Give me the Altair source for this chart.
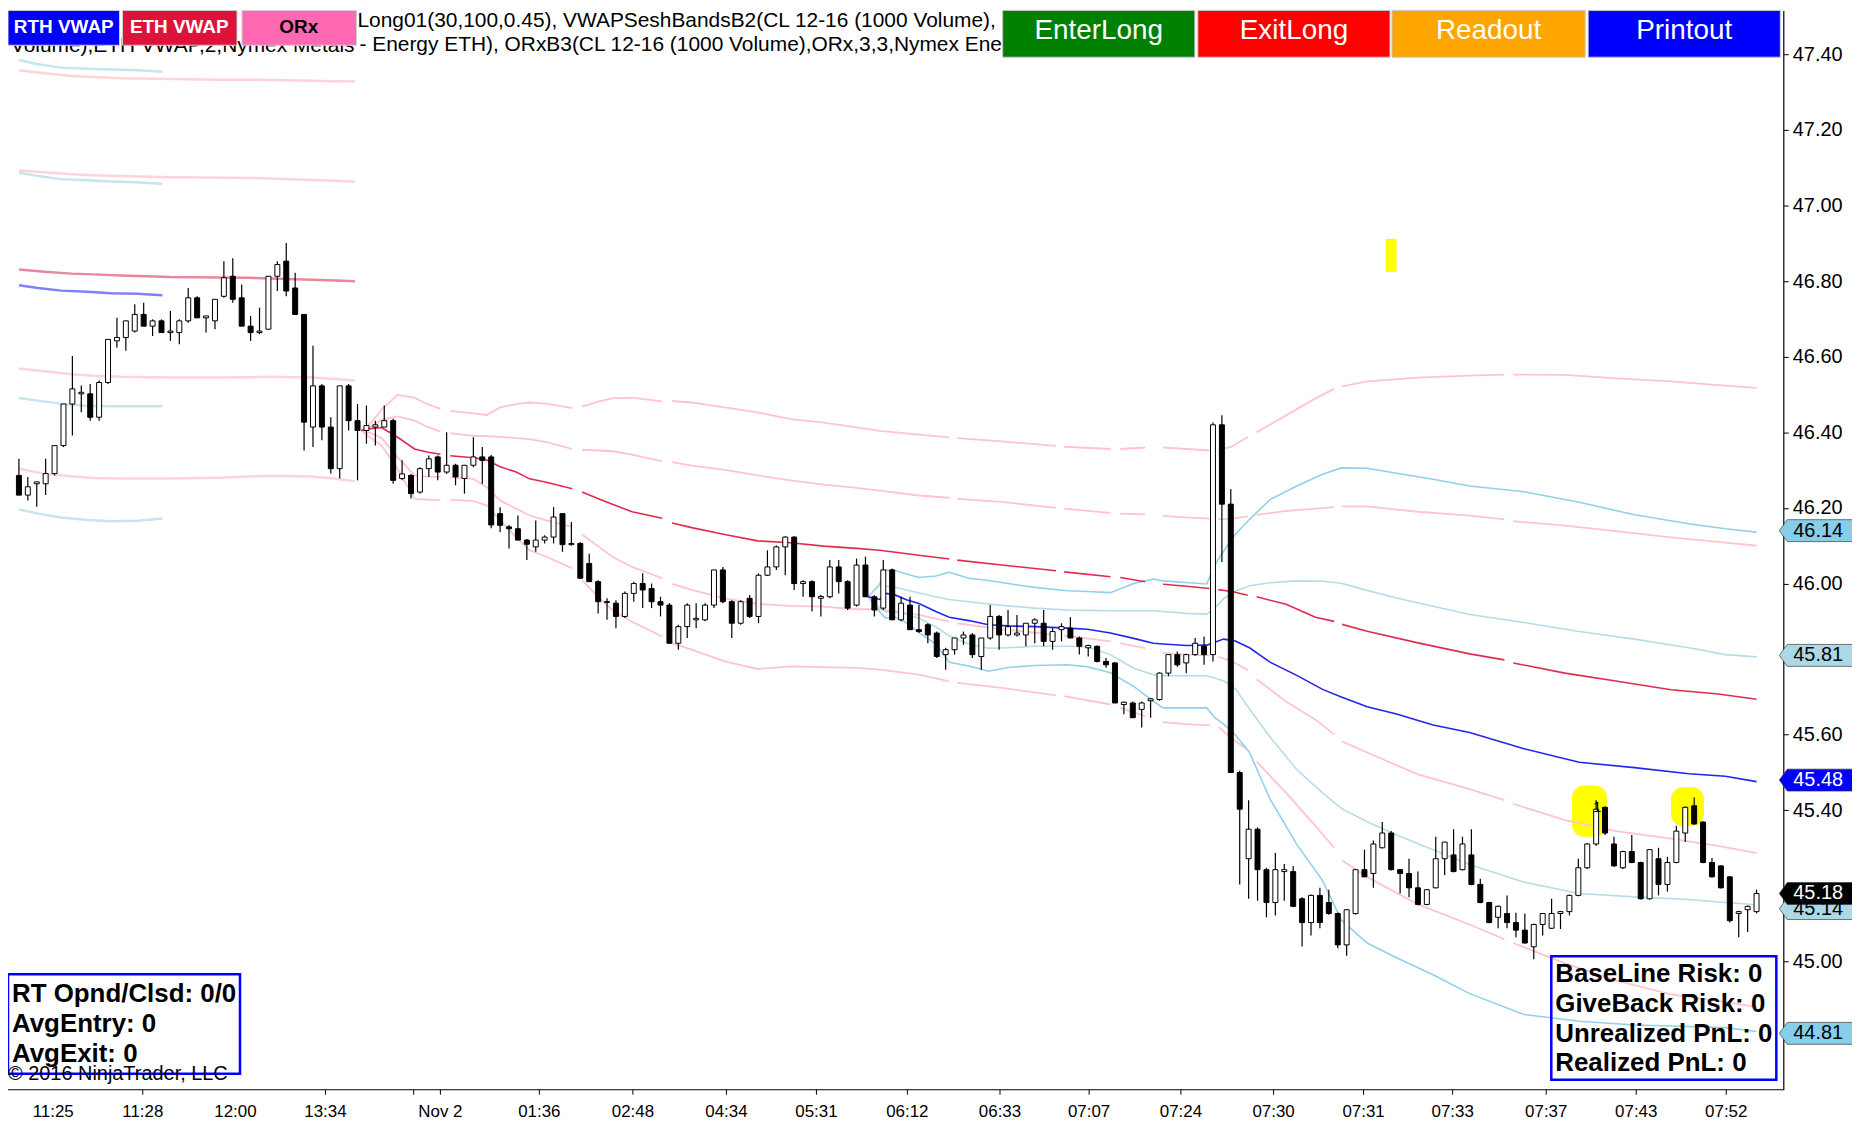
import altair as alt
import pandas as pd

FONT = "Liberation Sans"
W, H = 1783, 1084
X_DOM = [-0.6667, 197.444]
Y_DOM = [44.6608, 47.5164]

# ---------------- candles (2 real bars per candle) ----------------
OPEN = [46.286, 46.234, 46.264, 46.264, 46.291, 46.365, 46.475, 46.502, 46.502, 46.440,
        46.532, 46.642, 46.651, 46.668, 46.712, 46.681, 46.695, 46.664, 46.664, 46.695,
        46.756, 46.703, 46.695, 46.760, 46.813, 46.756, 46.681, 46.664, 46.673, 46.813,
        46.853, 46.782, 46.712, 46.414, 46.523, 46.414, 46.304, 46.523, 46.431, 46.405,
        46.414, 46.414, 46.431, 46.278, 46.286, 46.242, 46.304, 46.335, 46.295, 46.313,
        46.278, 46.313, 46.335, 46.335, 46.185, 46.150, 46.145, 46.115, 46.097, 46.115,
        46.123, 46.185, 46.103, 46.106, 46.053, 46.005, 45.952, 45.948, 45.913, 45.974,
        46.000, 45.987, 45.952, 45.943, 45.842, 45.886, 45.904, 45.904, 45.943, 46.036,
        45.952, 45.895, 45.961, 45.913, 46.022, 46.044, 46.097, 46.123, 46.000, 46.005,
        45.961, 45.965, 46.044, 46.005, 45.943, 46.049, 45.965, 45.935, 46.036, 45.904,
        45.943, 45.878, 45.891, 45.869, 45.812, 45.825, 45.856, 45.864, 45.807, 45.856,
        45.913, 45.864, 45.864, 45.864, 45.895, 45.895, 45.847, 45.878, 45.882, 45.856,
        45.830, 45.834, 45.794, 45.790, 45.680, 45.684, 45.667, 45.690, 45.693, 45.763,
        45.812, 45.790, 45.812, 45.834, 45.812, 46.420, 46.210, 45.500, 45.272, 45.350,
        45.243, 45.156, 45.238, 45.238, 45.166, 45.103, 45.175, 45.156, 45.127, 45.044,
        45.127, 45.243, 45.233, 45.301, 45.340, 45.243, 45.233, 45.195, 45.151, 45.195,
        45.272, 45.282, 45.243, 45.282, 45.204, 45.156, 45.117, 45.127, 45.103, 45.083,
        45.039, 45.098, 45.088, 45.127, 45.132, 45.175, 45.248, 45.311, 45.408, 45.311,
        45.248, 45.291, 45.262, 45.166, 45.272, 45.204, 45.262, 45.340, 45.412, 45.369,
        45.262, 45.253, 45.224, 45.127, 45.137, 45.132]
HIGH = [46.330, 46.282, 46.269, 46.330, 46.365, 46.475, 46.602, 46.524, 46.528, 46.537,
        46.646, 46.703, 46.695, 46.739, 46.743, 46.699, 46.699, 46.721, 46.699, 46.782,
        46.760, 46.708, 46.752, 46.853, 46.861, 46.791, 46.708, 46.730, 46.813, 46.853,
        46.901, 46.822, 46.712, 46.629, 46.528, 46.440, 46.523, 46.528, 46.475, 46.471,
        46.431, 46.471, 46.436, 46.326, 46.290, 46.308, 46.339, 46.339, 46.400, 46.317,
        46.313, 46.387, 46.361, 46.340, 46.202, 46.155, 46.180, 46.118, 46.167, 46.128,
        46.202, 46.185, 46.163, 46.110, 46.079, 46.009, 45.961, 45.956, 45.979, 46.005,
        46.027, 46.000, 45.965, 45.948, 45.891, 45.948, 45.948, 45.948, 46.036, 46.044,
        45.956, 45.956, 45.970, 46.027, 46.088, 46.101, 46.125, 46.125, 46.009, 46.009,
        45.970, 46.062, 46.062, 46.009, 46.066, 46.071, 45.970, 46.062, 46.040, 45.965,
        45.965, 45.943, 45.895, 45.873, 45.830, 45.856, 45.873, 45.869, 45.856, 45.943,
        45.917, 45.930, 45.917, 45.895, 45.908, 45.930, 45.882, 45.895, 45.911, 45.860,
        45.838, 45.836, 45.803, 45.792, 45.688, 45.688, 45.688, 45.697, 45.765, 45.812,
        45.820, 45.814, 45.856, 45.860, 46.426, 46.445, 46.250, 45.505, 45.427, 45.355,
        45.248, 45.287, 45.258, 45.253, 45.170, 45.177, 45.195, 45.190, 45.130, 45.139,
        45.243, 45.296, 45.320, 45.369, 45.345, 45.245, 45.272, 45.238, 45.192, 45.330,
        45.316, 45.350, 45.330, 45.350, 45.219, 45.158, 45.148, 45.175, 45.129, 45.127,
        45.100, 45.127, 45.166, 45.134, 45.177, 45.272, 45.313, 45.427, 45.410, 45.330,
        45.293, 45.335, 45.264, 45.298, 45.301, 45.277, 45.359, 45.410, 45.434, 45.371,
        45.274, 45.255, 45.226, 45.134, 45.148, 45.190]
LOW = [46.234, 46.220, 46.203, 46.234, 46.286, 46.361, 46.392, 46.453, 46.431, 46.431,
       46.528, 46.624, 46.616, 46.664, 46.681, 46.655, 46.664, 46.642, 46.633, 46.690,
       46.703, 46.664, 46.673, 46.756, 46.743, 46.681, 46.642, 46.660, 46.673, 46.774,
       46.760, 46.712, 46.352, 46.361, 46.379, 46.291, 46.278, 46.405, 46.273, 46.370,
       46.365, 46.414, 46.264, 46.273, 46.225, 46.238, 46.282, 46.273, 46.290, 46.260,
       46.238, 46.308, 46.264, 46.146, 46.136, 46.093, 46.115, 46.062, 46.084, 46.106,
       46.106, 46.084, 46.100, 46.014, 46.005, 45.921, 45.904, 45.882, 45.909, 45.952,
       45.935, 45.935, 45.913, 45.842, 45.825, 45.856, 45.882, 45.900, 45.935, 45.948,
       45.856, 45.891, 45.909, 45.895, 46.020, 46.036, 46.022, 45.983, 45.965, 45.926,
       45.913, 45.961, 45.974, 45.930, 45.939, 45.965, 45.913, 45.930, 45.904, 45.900,
       45.878, 45.870, 45.842, 45.803, 45.772, 45.812, 45.838, 45.803, 45.772, 45.851,
       45.825, 45.860, 45.860, 45.834, 45.842, 45.834, 45.825, 45.847, 45.856, 45.812,
       45.807, 45.791, 45.777, 45.684, 45.654, 45.645, 45.619, 45.645, 45.690, 45.755,
       45.780, 45.763, 45.809, 45.785, 45.794, 46.057, 45.500, 45.204, 45.166, 45.161,
       45.117, 45.122, 45.161, 45.144, 45.040, 45.069, 45.088, 45.124, 45.035, 45.015,
       45.124, 45.224, 45.195, 45.299, 45.241, 45.180, 45.170, 45.149, 45.149, 45.193,
       45.229, 45.236, 45.241, 45.202, 45.154, 45.101, 45.088, 45.088, 45.064, 45.047,
       45.006, 45.069, 45.086, 45.086, 45.122, 45.173, 45.245, 45.306, 45.335, 45.251,
       45.245, 45.260, 45.164, 45.164, 45.175, 45.185, 45.260, 45.316, 45.362, 45.260,
       45.222, 45.193, 45.103, 45.064, 45.078, 45.127]
CLOSE = [46.234, 46.256, 46.269, 46.291, 46.365, 46.475, 46.515, 46.506, 46.440, 46.532,
         46.646, 46.651, 46.695, 46.712, 46.681, 46.695, 46.664, 46.668, 46.695, 46.756,
         46.703, 46.708, 46.752, 46.809, 46.752, 46.681, 46.664, 46.668, 46.813, 46.844,
         46.774, 46.712, 46.427, 46.523, 46.414, 46.304, 46.523, 46.431, 46.405, 46.418,
         46.420, 46.431, 46.273, 46.290, 46.238, 46.304, 46.330, 46.295, 46.313, 46.282,
         46.313, 46.335, 46.326, 46.155, 46.154, 46.145, 46.115, 46.104, 46.115, 46.123,
         46.176, 46.103, 46.106, 46.014, 46.005, 45.952, 45.950, 45.913, 45.974, 46.000,
         45.983, 45.952, 45.943, 45.842, 45.886, 45.943, 45.908, 45.943, 46.036, 45.952,
         45.895, 45.952, 45.913, 46.022, 46.044, 46.097, 46.123, 46.000, 46.005, 45.965,
         45.966, 46.044, 46.005, 45.935, 46.049, 45.965, 45.930, 46.036, 45.904, 45.948,
         45.878, 45.873, 45.864, 45.807, 45.825, 45.856, 45.864, 45.812, 45.856, 45.913,
         45.864, 45.886, 45.869, 45.895, 45.904, 45.847, 45.873, 45.886, 45.856, 45.834,
         45.836, 45.794, 45.785, 45.684, 45.686, 45.645, 45.684, 45.695, 45.763, 45.812,
         45.785, 45.812, 45.842, 45.812, 46.420, 46.210, 45.500, 45.403, 45.350, 45.243,
         45.156, 45.243, 45.243, 45.146, 45.103, 45.175, 45.103, 45.127, 45.044, 45.137,
         45.243, 45.224, 45.311, 45.340, 45.243, 45.233, 45.195, 45.151, 45.190, 45.272,
         45.316, 45.238, 45.311, 45.204, 45.156, 45.103, 45.146, 45.103, 45.083, 45.049,
         45.098, 45.127, 45.127, 45.132, 45.175, 45.248, 45.311, 45.403, 45.340, 45.253,
         45.291, 45.262, 45.166, 45.296, 45.204, 45.262, 45.345, 45.408, 45.364, 45.262,
         45.224, 45.195, 45.108, 45.132, 45.146, 45.180]

# ---------------- VWAP band lines ----------------
ETH_I = [38.4, 39.5, 40.7, 42.5, 44.4, 45.8, 47.3, 48.4, 51.0, 52.5,
         54.0, 55.8, 57.3, 59.2, 62.1, 63.2, 65.1, 66.6, 68.8, 72.2,
         73.3, 75.5, 79.2, 82.9, 86.6, 90.3, 94.0, 96.6, 101.0, 104.4,
         105.3, 110.3, 116.4, 117.3, 122.5, 123.6, 126.4, 128.4, 131.0, 133.6,
         134.6, 136.1, 137.9, 138.9, 142.2, 145.5, 147.6, 148.5, 151.3, 157.0,
         162.8, 166.7, 167.7, 173.5, 179.2, 185.4, 190.7, 195.0]
ETH_MID = [46.405, 46.410, 46.413, 46.387, 46.356, 46.348, 46.342, 46.338, 46.333, 46.327,
           46.309, 46.295, 46.277, 46.268, 46.251, 46.242, 46.224, 46.210, 46.190, 46.173,
           46.160, 46.148, 46.130, 46.113, 46.108, 46.099, 46.093, 46.088, 46.075, 46.065,
           46.062, 46.049, 46.034, 46.031, 46.018, 46.016, 46.005, 45.998, 45.993, 45.987,
           45.984, 45.979, 45.969, 45.965, 45.945, 45.911, 45.900, 45.892, 45.874, 45.843,
           45.814, 45.798, 45.790, 45.763, 45.742, 45.719, 45.708, 45.694]
ETH_UP2 = [46.405, 46.425, 46.460, 46.499, 46.492, 46.475, 46.462, 46.457, 46.450, 46.446,
           46.466, 46.475, 46.479, 46.476, 46.464, 46.468, 46.482, 46.490, 46.492, 46.482,
           46.483, 46.479, 46.466, 46.453, 46.435, 46.426, 46.413, 46.404, 46.394, 46.387,
           46.385, 46.376, 46.364, 46.362, 46.356, 46.356, 46.360, 46.360, 46.356, 46.352,
           46.353, 46.362, 46.388, 46.400, 46.445, 46.490, 46.515, 46.522, 46.535, 46.545,
           46.550, 46.553, 46.553, 46.552, 46.543, 46.535, 46.525, 46.518]
ETH_UP1 = [46.405, 46.415, 46.433, 46.442, 46.431, 46.415, 46.402, 46.398, 46.391, 46.390,
           46.388, 46.385, 46.382, 46.374, 46.356, 46.354, 46.352, 46.350, 46.341, 46.323,
           46.321, 46.312, 46.301, 46.286, 46.273, 46.262, 46.253, 46.246, 46.233, 46.227,
           46.224, 46.216, 46.200, 46.198, 46.187, 46.185, 46.183, 46.179, 46.175, 46.172,
           46.170, 46.172, 46.178, 46.182, 46.192, 46.198, 46.202, 46.204, 46.204, 46.190,
           46.180, 46.170, 46.165, 46.153, 46.139, 46.122, 46.110, 46.100]
ETH_LO1 = [46.405, 46.398, 46.385, 46.334, 46.286, 46.283, 46.282, 46.281, 46.277, 46.255,
           46.220, 46.198, 46.180, 46.167, 46.150, 46.130, 46.097, 46.071, 46.044, 46.014,
           45.999, 45.983, 45.961, 45.946, 45.941, 45.939, 45.932, 45.932, 45.917, 45.899,
           45.895, 45.879, 45.864, 45.862, 45.847, 45.842, 45.829, 45.816, 45.812, 45.810,
           45.806, 45.795, 45.771, 45.747, 45.688, 45.640, 45.601, 45.582, 45.553, 45.495,
           45.456, 45.427, 45.417, 45.374, 45.345, 45.325, 45.306, 45.287]
ETH_LO2 = [46.405, 46.385, 46.365, 46.303, 46.224, 46.222, 46.220, 46.222, 46.218, 46.207,
           46.167, 46.123, 46.088, 46.071, 46.040, 46.009, 45.962, 45.930, 45.899, 45.860,
           45.842, 45.825, 45.794, 45.774, 45.781, 45.779, 45.777, 45.772, 45.759, 45.741,
           45.737, 45.724, 45.704, 45.702, 45.680, 45.671, 45.649, 45.633, 45.628, 45.625,
           45.621, 45.590, 45.560, 45.529, 45.446, 45.359, 45.301, 45.267, 45.224, 45.151,
           45.098, 45.059, 45.049, 44.995, 44.950, 44.913, 44.895, 44.880]
GAP_START = [47.3, 62.1, 72.2, 104.4, 116.4, 122.5, 126.4, 133.6, 137.9, 147.6, 166.7]
GAP_END = [48.4, 63.2, 73.3, 105.3, 117.3, 123.6, 128.4, 134.6, 138.9, 148.5, 167.7]

RTH_I = [95.3, 96.6, 97.3, 98.3, 99.6, 101.0, 102.9, 104.4, 106.6, 108.8,
         111.0, 114.0, 117.7, 119.9, 122.5, 125.1, 127.3, 128.4, 131.0, 133.3,
         134.2, 135.2, 136.5, 138.1, 140.4, 143.4, 146.3, 148.4, 151.3, 154.6,
         158.7, 162.8, 168.9, 175.1, 181.3, 187.4, 191.5, 195.0]
RTH_MID = [45.965, 45.958, 45.974, 45.970, 45.957, 45.947, 45.926, 45.911, 45.902, 45.891,
           45.888, 45.886, 45.882, 45.879, 45.869, 45.855, 45.842, 45.840, 45.836, 45.837,
           45.845, 45.853, 45.848, 45.830, 45.792, 45.757, 45.720, 45.700, 45.674, 45.655,
           45.626, 45.606, 45.563, 45.527, 45.513, 45.497, 45.490, 45.476]
RTH_UP2 = [45.965, 45.999, 46.036, 46.035, 46.025, 46.016, 46.020, 46.030, 46.014, 46.008,
           46.000, 45.990, 45.981, 45.979, 45.976, 46.000, 46.012, 46.007, 46.003, 45.999,
           46.049, 46.086, 46.130, 46.170, 46.222, 46.258, 46.289, 46.306, 46.305, 46.292,
           46.276, 46.258, 46.243, 46.215, 46.182, 46.158, 46.145, 46.136]
RTH_UP1 = [45.965, 45.996, 45.993, 45.990, 45.983, 45.975, 45.965, 45.958, 45.952, 45.946,
           45.941, 45.935, 45.930, 45.929, 45.928, 45.928, 45.928, 45.926, 45.921, 45.919,
           45.935, 45.960, 45.980, 45.994, 46.002, 46.007, 46.006, 46.001, 45.982, 45.962,
           45.940, 45.918, 45.897, 45.873, 45.853, 45.830, 45.812, 45.806]
RTH_LO1 = [45.965, 45.935, 45.925, 45.925, 45.918, 45.908, 45.885, 45.862, 45.840, 45.829,
           45.830, 45.834, 45.834, 45.832, 45.812, 45.776, 45.759, 45.756, 45.756, 45.756,
           45.750, 45.742, 45.722, 45.668, 45.594, 45.508, 45.446, 45.405, 45.370, 45.335,
           45.296, 45.257, 45.210, 45.180, 45.171, 45.164, 45.156, 45.150]
RTH_LO2 = [45.965, 45.925, 45.908, 45.912, 45.896, 45.870, 45.840, 45.792, 45.782, 45.768,
           45.778, 45.783, 45.785, 45.780, 45.764, 45.728, 45.689, 45.671, 45.671, 45.671,
           45.645, 45.628, 45.600, 45.553, 45.430, 45.310, 45.214, 45.110, 45.049, 45.010,
           44.965, 44.915, 44.860, 44.842, 44.832, 44.828, 44.825, 44.815]

OLD_ETH_I = [0, 2.9, 5.9, 8.4, 11.4, 17.0, 22.5, 25.9, 28.1, 32.9, 35.5, 37.7]
OLD_ETH_MID = [46.831, 46.825, 46.820, 46.818, 46.815, 46.811, 46.810, 46.809, 46.807, 46.804, 46.802, 46.800]
OLD_ETH_UP2 = [47.358, 47.350, 47.343, 47.340, 47.337, 47.335, 47.333, 47.333, 47.332, 47.330, 47.329, 47.328]
OLD_ETH_UP1 = [47.093, 47.088, 47.083, 47.080, 47.078, 47.075, 47.074, 47.073, 47.072, 47.068, 47.066, 47.063]
OLD_ETH_LO1 = [46.569, 46.562, 46.554, 46.550, 46.547, 46.545, 46.545, 46.546, 46.547, 46.545, 46.541, 46.537]
OLD_ETH_LO2 = [46.304, 46.290, 46.284, 46.279, 46.278, 46.278, 46.280, 46.283, 46.285, 46.283, 46.277, 46.271]
OLD_RTH_I = [0, 2.15, 4.74, 7.7, 10.3, 13.3, 16.1]
OLD_RTH_MID = [46.789, 46.782, 46.775, 46.772, 46.768, 46.767, 46.763]
OLD_RTH_UP2 = [47.385, 47.374, 47.365, 47.362, 47.360, 47.358, 47.354]
OLD_RTH_UP1 = [47.087, 47.078, 47.070, 47.067, 47.064, 47.062, 47.057]
OLD_RTH_LO1 = [46.491, 46.484, 46.476, 46.470, 46.469, 46.469, 46.469]
OLD_RTH_LO2 = [46.196, 46.185, 46.175, 46.168, 46.165, 46.166, 46.172]

# ---------------- markers, ticks, tags ----------------
HL_I0 = [174.3, 185.4]
HL_I1 = [178.2, 189.1]
HL_P0 = [45.330, 45.359]
HL_P1 = [45.466, 45.461]
MK_I0 = [153.4]
MK_I1 = [154.6]
MK_P0 = [46.825]
MK_P1 = [46.912]

TICK_I = [3.85, 13.9, 24.3, 34.4, 47.3, 58.4, 68.9, 79.4, 89.5, 99.7,
          110.1, 120.1, 130.4, 140.8, 150.9, 160.9, 171.4, 181.5, 191.6]
TICK_LBL = ["11:25", "11:28", "12:00", "13:34", "Nov 2", "01:36", "02:48", "04:34", "05:31", "06:12",
            "06:33", "07:07", "07:24", "07:30", "07:31", "07:33", "07:37", "07:43", "07:52"]
TICK_MARK_I = [13.9, 34.4, 44.3, 47.3, 58.4, 68.9, 79.4, 89.5, 99.7, 110.1,
               120.1, 130.4, 140.8, 150.9, 160.9, 171.4, 181.5, 191.6]
# 45.20 and 45.80 sit under the price tags in the reference, so only the visible ones are labelled
Y_TICKS = [45.0, 45.4, 45.6, 46.0, 46.2, 46.4, 46.6, 46.8, 47.0, 47.2, 47.4]

TAG_P = [46.14, 45.81, 45.48, 45.14, 45.18, 44.81]
TAG_KIND = ["outer", "inner", "vwap", "inner", "last", "outer"]
KINDS = ["outer", "inner", "vwap", "last"]

XS = alt.Scale(domain=X_DOM, nice=False, zero=False)
YS = alt.Scale(domain=Y_DOM, nice=False, zero=False)
YAX = alt.Axis(orient="right", values=Y_TICKS, format=".2f", title=None, grid=False,
               labelFont=FONT, labelFontSize=20, labelColor="black", labelPadding=4,
               tickColor="black", tickSize=5, tickWidth=1, domainColor="black", domainWidth=1.2,
               labelOverlap=False, labelBound=False, labelFlush=False)


def X(f):
    return alt.X(f, scale=XS, axis=None)


def Y(f):
    return alt.Y(f, scale=YS, axis=YAX)


layers = []

# highlights (behind candles)
hl = pd.DataFrame({"i0": HL_I0, "i1": HL_I1, "p0": HL_P0, "p1": HL_P1})
layers.append(alt.Chart(hl).mark_rect(color="#FFFF00", cornerRadius=12).encode(
    x=X("i0:Q"), x2="i1:Q", y=Y("p0:Q"), y2="p1:Q"))
mk = pd.DataFrame({"i0": MK_I0, "i1": MK_I1, "p0": MK_P0, "p1": MK_P1})
layers.append(alt.Chart(mk).mark_rect(color="#FFFF00").encode(
    x=X("i0:Q"), x2="i1:Q", y=Y("p0:Q"), y2="p1:Q"))


def rows_for(xs, ys, name, gaps):
    out = []
    for x, y in zip(xs, ys):
        if gaps and any(a < x < b for a, b in zip(GAP_START, GAP_END)):
            continue
        s = sum(1 for b in GAP_END if x >= b) if gaps else 0
        out.append({"i": x, "v": y, "key": f"{name}-{s}"})
    return out


def line_layer(rows, color, width, opacity=1.0):
    return alt.Chart(pd.DataFrame(rows)).mark_line(
        color=color, strokeWidth=width, opacity=opacity).encode(
        x=X("i:Q"), y=Y("v:Q"), detail="key:N", order="i:Q")


# old session lines
layers.append(line_layer(
    rows_for(OLD_ETH_I, OLD_ETH_UP2, "a", False) + rows_for(OLD_ETH_I, OLD_ETH_UP1, "b", False) +
    rows_for(OLD_ETH_I, OLD_ETH_LO1, "c", False) + rows_for(OLD_ETH_I, OLD_ETH_LO2, "d", False),
    "#FFD3DA", 2.5))
layers.append(line_layer(
    rows_for(OLD_RTH_I, OLD_RTH_UP2, "a", False) + rows_for(OLD_RTH_I, OLD_RTH_UP1, "b", False) +
    rows_for(OLD_RTH_I, OLD_RTH_LO1, "c", False) + rows_for(OLD_RTH_I, OLD_RTH_LO2, "d", False),
    "#C6E5EF", 2.5))
layers.append(line_layer(rows_for(OLD_ETH_I, OLD_ETH_MID, "m", False), "#E8889A", 2.5))
layers.append(line_layer(rows_for(OLD_RTH_I, OLD_RTH_MID, "m", False), "#8080F8", 2.5))

# new session lines
layers.append(line_layer(
    rows_for(ETH_I, ETH_UP2, "a", True) + rows_for(ETH_I, ETH_UP1, "b", True) +
    rows_for(ETH_I, ETH_LO1, "c", True) + rows_for(ETH_I, ETH_LO2, "d", True),
    "#FFC4CE", 1.8))
layers.append(line_layer(rows_for(RTH_I, RTH_UP2, "a", False) + rows_for(RTH_I, RTH_LO2, "d", False),
                         "#92D0EA", 1.6))
layers.append(line_layer(rows_for(RTH_I, RTH_UP1, "b", False) + rows_for(RTH_I, RTH_LO1, "c", False),
                         "#B7DCE8", 1.6))
layers.append(line_layer(rows_for(ETH_I, ETH_MID, "m", True), "#DC143C", 1.6, 0.9))
layers.append(line_layer(rows_for(RTH_I, RTH_MID, "m", False), "#2424F0", 1.6))

# candles
cd = pd.DataFrame({"idx": list(range(len(OPEN))), "o": OPEN, "h": HIGH, "l": LOW, "c": CLOSE})
layers.append(alt.Chart(cd).mark_rule(color="black", strokeWidth=1.2).encode(
    x=X("idx:Q"), y=Y("l:Q"), y2="h:Q"))
layers.append(alt.Chart(cd).mark_bar(width=5, stroke="black", strokeWidth=1).encode(
    x=X("idx:Q"), y=Y("o:Q"), y2="c:Q",
    fill=alt.condition("datum.c >= datum.o", alt.value("white"), alt.value("black"))))

ONE = pd.DataFrame({"k": [0]})
layers.append(alt.Chart(pd.DataFrame({"i": [177.1], "p": [45.41]})).mark_text(
    text="1", font=FONT, fontSize=15, color="black").encode(x=X("i:Q"), y=Y("p:Q")))


def txt(s, x, y, size, color="black", weight="normal", align="left"):
    return alt.Chart(ONE).mark_text(text=s, font=FONT, fontSize=size, fontWeight=weight,
                                    color=color, align=align, baseline="middle").encode(
        x=alt.value(x), y=alt.value(y))


def box(x1, x2, y1, y2, fill=None, stroke=None, sw=1.0):
    kw = dict(strokeWidth=sw)
    if fill is None:
        kw.update(fill="white", fillOpacity=0)
    else:
        kw.update(fill=fill)
    if stroke is not None:
        kw.update(stroke=stroke)
    return alt.Chart(ONE).mark_rect(**kw).encode(
        x=alt.value(x1), x2=alt.value(x2), y=alt.value(y1), y2=alt.value(y2))


# header text (partly hidden behind buttons)
layers.append(txt("Long01(30,100,0.45), VWAPSeshBandsB2(CL 12-16 (1000 Volume),", 351, 11, 21))
layers.append(txt("Volume),ETH VWAP,2,Nymex Metals", 348, 36, 21, align="right"))
layers.append(txt("- Energy ETH), ORxB3(CL 12-16 (1000 Volume),ORx,3,3,Nymex Energy ETH)", 353, 35, 21))

# top-left buttons
layers.append(box(0, 112, 0, 35, fill="#0000FF", stroke="#d0d0d0"))
layers.append(box(115, 230, 0, 35, fill="#DC143C", stroke="#d0d0d0"))
layers.append(box(235, 350, 0, 35, fill="#FF69B4", stroke="#d0d0d0"))
layers.append(txt("RTH VWAP", 56, 17, 19, "white", "bold", "center"))
layers.append(txt("ETH VWAP", 172, 17, 19, "white", "bold", "center"))
layers.append(txt("ORx", 292, 17, 19, "black", "bold", "center"))

# top-right buttons
for (x1, x2, col, lab) in [(999, 1192, "#008000", "EnterLong"), (1195, 1388, "#FF0000", "ExitLong"),
                           (1390, 1584, "#FFA500", "Readout"), (1587, 1780, "#0000FF", "Printout")]:
    layers.append(box(x1, x2, 0, 47, fill=col, stroke="#c8c8c8"))
    layers.append(txt(lab, (x1 + x2) / 2, 21, 28, "white", "normal", "center"))

# bottom-left info box
layers.append(box(0, 233, 968, 1068, stroke="#0000FF", sw=2.5))
layers.append(txt("RT Opnd/Clsd: 0/0", 4, 988, 26, weight="bold"))
layers.append(txt("AvgEntry: 0", 4, 1018, 26, weight="bold"))
layers.append(txt("AvgExit: 0", 4, 1048, 26, weight="bold"))
layers.append(txt("\u00a9 2016 NinjaTrader, LLC", 0, 1068, 20))

# bottom-right info box
layers.append(box(1550, 1776, 950, 1074, stroke="#0000FF", sw=2.5))
layers.append(txt("BaseLine Risk: 0", 1554, 968, 26, weight="bold"))
layers.append(txt("GiveBack Risk: 0", 1554, 998, 26, weight="bold"))
layers.append(txt("Unrealized PnL: 0", 1554, 1028, 26, weight="bold"))
layers.append(txt("Realized PnL: 0", 1554, 1057, 26, weight="bold"))

# price tags on the right axis
tags = pd.DataFrame({"p": TAG_P, "kind": TAG_KIND, "lbl": [f"{v:.2f}" for v in TAG_P]})
TAG_PATH = "M-1,0L-0.8,-0.275L1,-0.275L1,0.275L-0.8,0.275Z"
layers.append(alt.Chart(tags).mark_point(shape=TAG_PATH, size=6400, filled=True, opacity=1,
                                         stroke="#3a3a3a", strokeWidth=0.7).encode(
    x=alt.value(1819), y=Y("p:Q"),
    fill=alt.Fill("kind:N", scale=alt.Scale(domain=KINDS, range=["#87CEEB", "#ADD8E6", "#0000FF", "#000000"]),
                  legend=None)))
layers.append(alt.Chart(tags).mark_text(font=FONT, fontSize=20, align="left", baseline="middle").encode(
    x=alt.value(1793), y=Y("p:Q"), text="lbl:N",
    color=alt.Color("kind:N", scale=alt.Scale(domain=KINDS, range=["black", "black", "white", "white"]),
                    legend=None)))

# time axis
layers.append(alt.Chart(ONE).mark_rule(color="black", strokeWidth=1.2).encode(
    x=alt.value(0), x2=alt.value(W), y=alt.value(H)))
layers.append(alt.Chart(pd.DataFrame({"i": TICK_MARK_I})).mark_rule(color="black", strokeWidth=1).encode(
    x=X("i:Q"), y=alt.value(H), y2=alt.value(H + 5)))
layers.append(alt.Chart(pd.DataFrame({"i": TICK_I, "lbl": TICK_LBL})).mark_text(
    font=FONT, fontSize=17, color="black", baseline="middle").encode(
    x=X("i:Q"), y=alt.value(1106), text="lbl:N"))

chart = alt.layer(*layers).properties(
    width=W, height=H,
    autosize=alt.AutoSizeParams(type="none"),
    padding={"left": 0, "top": 0, "right": 69, "bottom": 31},
    background="white",
).configure_view(stroke=None)

chart.save("out.html", embed_options={"renderer": "svg", "actions": False})
